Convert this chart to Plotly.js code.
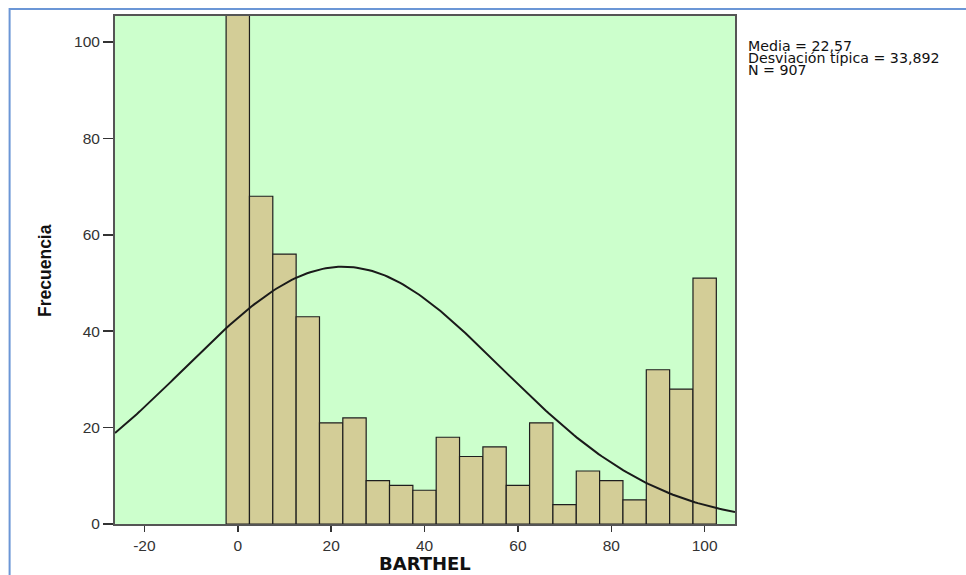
<!DOCTYPE html>
<html>
<head>
<meta charset="utf-8">
<script src="https://cdn.plot.ly/plotly-3.0.1.min.js"></script>
<style>
  html, body { margin: 0; padding: 0; background: #ffffff; }
  #chart { width: 966px; height: 575px; }
</style>
</head>
<body>
<div id="chart"></div>
<script>
// Barthel index histogram (bin width 5) with fitted normal curve
const binCenters = [0, 5, 10, 15, 20, 25, 30, 35, 40, 45, 50, 55, 60, 65, 70, 75, 80, 85, 90, 95, 100];
const frequencies = [456, 68, 56, 43, 21, 22, 9, 8, 7, 18, 14, 16, 8, 21, 4, 11, 9, 5, 32, 28, 51];
const binWidth = 5;

// Summary statistics shown beside the plot
const media = 22.57;
const desviacion = 33.892;
const n = 907;
const statLines = ['Media = 22,57', 'Desviación típica = 33,892', 'N = 907'];

const xTicks = [-20, 0, 20, 40, 60, 80, 100];
const yTicks = [0, 20, 40, 60, 80, 100];
const xRange = [-26.3, 106.5];
const yRange = [0, 105.4];

// Normal density scaled to counts per bin, sampled along the x range
const curveX = [];
const curveY = [];
const steps = 200;
for (let i = 0; i <= steps; i++) {
  const x = xRange[0] + (xRange[1] - xRange[0]) * i / steps;
  const z = (x - media) / desviacion;
  curveX.push(x);
  curveY.push(n * binWidth * Math.exp(-0.5 * z * z) / (desviacion * Math.sqrt(2 * Math.PI)));
}

const tickFont = { family: 'Liberation Sans, Arial, sans-serif', size: 15.5, color: '#333333' };

const data = [
  {
    type: 'bar',
    x: binCenters,
    y: frequencies,
    width: binWidth,
    marker: { color: '#d3cd97', line: { color: '#1e1e1e', width: 1.2 } },
    hoverinfo: 'x+y'
  },
  {
    type: 'scatter',
    mode: 'lines',
    x: curveX,
    y: curveY,
    line: { color: '#1a1a1a', width: 2 },
    hoverinfo: 'skip'
  }
];

const annotations = [
  {
    text: '<b>BARTHEL</b>',
    xref: 'paper', yref: 'paper',
    x: 0.5, y: -0.0775, xanchor: 'center', yanchor: 'middle',
    showarrow: false,
    font: { family: 'DejaVu Sans, Liberation Sans, Arial, sans-serif', size: 18, color: '#111111' }
  },
  {
    text: '<b>Frecuencia</b>',
    xref: 'paper', yref: 'paper',
    x: -0.113, y: 0.5, xanchor: 'center', yanchor: 'middle',
    textangle: -90,
    showarrow: false,
    font: { family: 'Liberation Sans Narrow, Liberation Sans, Arial, sans-serif', size: 17.5, color: '#111111' }
  }
];
statLines.forEach((line, i) => {
  annotations.push({
    text: line,
    xref: 'paper', yref: 'paper',
    x: 1.017, y: 1 - (29.5 + i * 12.3) / 508,
    xanchor: 'left', yanchor: 'middle',
    showarrow: false,
    font: { family: 'DejaVu Sans, Liberation Sans, Arial, sans-serif', size: 14.2, color: '#111111' }
  });
});

const layout = {
  width: 966,
  height: 575,
  margin: { l: 115, r: 231, t: 16, b: 51 },
  paper_bgcolor: '#ffffff',
  plot_bgcolor: '#ccffcc',
  showlegend: false,
  bargap: 0,
  xaxis: {
    range: xRange,
    tickvals: xTicks,
    ticktext: xTicks.map(String),
    ticks: 'outside', ticklen: 6, tickwidth: 1.5, tickcolor: '#333333',
    showline: true, linecolor: '#555555', linewidth: 2, mirror: true,
    showgrid: false, zeroline: false,
    tickfont: tickFont
  },
  yaxis: {
    range: yRange,
    tickvals: yTicks,
    ticktext: yTicks.map(String),
    ticks: 'outside', ticklen: 10, tickwidth: 1.5, tickcolor: '#333333',
    showline: true, linecolor: '#555555', linewidth: 2, mirror: true,
    showgrid: false, zeroline: false,
    tickfont: tickFont
  },
  annotations: annotations,
  shapes: [
    {
      // outer frame of the chart panel
      type: 'rect', xref: 'paper', yref: 'paper',
      x0: -0.17, x1: 1.4, y0: -0.2, y1: 1.0138,
      line: { color: '#6b96d6', width: 2 },
      fillcolor: 'rgba(0,0,0,0)',
      layer: 'below'
    }
  ]
};

Plotly.newPlot('chart', data, layout, { displayModeBar: false, staticPlot: true });
</script>
</body>
</html>
